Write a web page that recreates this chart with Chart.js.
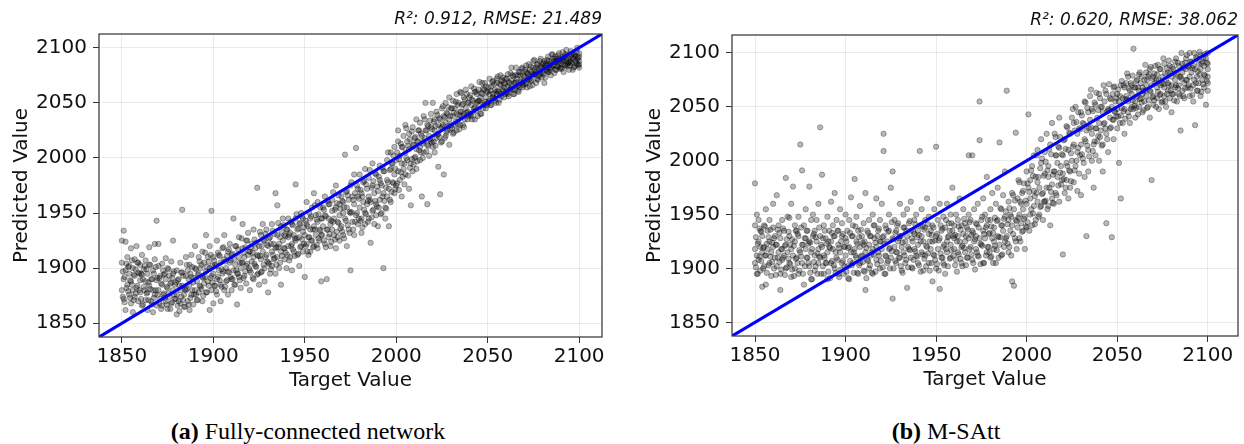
<!DOCTYPE html>
<html>
<head>
<meta charset="utf-8">
<script src="https://cdn.jsdelivr.net/npm/chart.js@4.4.1/dist/chart.umd.min.js"></script>
<style>
  body { margin: 0; background: #fff; width: 1244px; height: 444px; position: relative; overflow: hidden; }
  canvas { position: absolute; top: 0; }
  .cap { position: absolute; top: 417px; font-family: "Liberation Serif", "Times New Roman", serif; font-size: 24px; line-height: 28px; color: #000; transform: translateX(-50%); white-space: nowrap; }
</style>
</head>
<body>
<canvas id="chartA" width="620" height="400" style="left:0px"></canvas>
<canvas id="chartB" width="624" height="400" style="left:620px"></canvas>
<div class="cap" style="left:308px"><b>(a)</b> Fully-connected network</div>
<div class="cap" style="left:946px"><b>(b)</b> M-SAtt</div>

<script>
// each row: [target, predicted, predicted, ...]
const fcnRows = [
  [1850,1905,1880,1925],[1851,1934,1890,1872],[1852,1898,1924,1862],[1853,1885,1910],[1854,1876,1902,1895],
  [1855,1888,1918,1868],[1856,1860,1900,1880],[1857,1893,1874,1908],[1858,1882,1920],[1859,1896,1870,1905],
  [1860,1878,1889,1903],[1861,1866,1912,1894],[1862,1883,1899],[1863,1871,1907,1888],[1864,1878,1862,1895],
  [1865,1903,1884,1919],[1866,1870,1890],[1867,1880,1898,1860],[1868,1908,1922,1876],[1869,1943,1889,1866],
  [1870,1880,1902,1922],[1871,1872,1893],[1872,1885,1866,1904],[1873,1877,1894],[1874,1890,1870,1909],
  [1875,1882,1900,1863],[1876,1874,1893],[1877,1887,1868,1906],[1878,1925,1880,1895],[1879,1872,1885],
  [1880,1858,1876,1898],[1881,1890,1870],[1882,1880,1868,1905],[1883,1953,1884,1896],[1884,1876,1865],
  [1885,1893,1910,1880],[1886,1870,1898],[1887,1885,1862,1903],[1888,1892,1876,1912],[1889,1867,1887],
  [1890,1900,1880,1920],[1891,1888,1871],[1892,1895,1910,1878],[1893,1883,1900],[1894,1870,1892,1915],
  [1895,1905,1886],[1896,1897,1878,1930],[1897,1888,1910],[1898,1862,1900,1920],[1899,1952,1893,1880],
  [1900,1895,1868,1910],[1901,1903,1884],[1902,1890,1925,1876],[1903,1898,1912],[1904,1885,1905,1870],
  [1905,1895,1918],[1906,1880,1908,1930],[1907,1900,1888],[1908,1915,1876,1897],[1909,1905,1922],
  [1910,1890,1880,1912],[1911,1945,1898],[1912,1903,1920,1885],[1913,1867,1895],[1914,1910,1928,1892],
  [1915,1900,1882],[1916,1918,1905,1940],[1917,1893,1910],[1918,1925,1886,1902],[1919,1912,1932],
  [1920,1898,1880,1915],[1921,1906,1922],[1922,1890,1935,1910],[1923,1902,1918],[1924,1973,1912,1894],
  [1925,1920,1885],[1926,1908,1930,1896],[1927,1915,1940],[1928,1900,1925,1888],[1929,1912,1935],
  [1930,1878,1920,1905],[1931,1928,1895],[1932,1915,1940,1902],[1933,1922,1908],[1934,1968,1918,1895],
  [1935,1957,1930,1910],[1936,1922,1900],[1937,1938,1915,1885],[1938,1925,1945],[1939,1908,1930,1918],
  [1940,1935,1900],[1941,1920,1945,1928],[1942,1910,1932],[1943,1940,1922,1898],[1944,1930,1915],
  [1945,1976,1925,1945],[1946,1912,1935],[1947,1940,1928,1902],[1948,1920,1950],[1949,1933,1915,1945],
  [1950,1892,1930],[1951,1940,1922,1960],[1952,1928,1912],[1953,1945,1935,1915],[1954,1955,1925],
  [1955,1938,1968,1920],[1956,1930,1948],[1957,1918,1942,1960],[1958,1935,1925],[1959,1888,1945,1930],
  [1960,1955,1938],[1961,1922,1948,1965],[1962,1890,1935],[1963,1945,1958,1928],[1964,1940,1920],
  [1965,1952,1962,1935],[1966,1930,1945],[1967,1955,1918,1975],[1968,1942,1928],[1969,1958,1948,1925],
  [1970,1938,1965],[1971,1950,1930,1960],[1972,2003,1945],[1973,1920,1955,1970],[1974,1935,1962],
  [1975,1898,1950,1975],[1976,1942,1965],[1977,1958,1930,1985],[1978,2009,1948],[1979,1965,1940,1972],
  [1980,1955,1985],[1981,1945,1968,1932],[1982,1960,1978],[1983,1990,1950,1940],[1984,1972,1958],
  [1985,1945,1982,1965],[1986,1923,1960],[1987,1975,1952,1995],[1988,1968,1940],[1989,1985,1958,1948],
  [1990,1970,1938],[1991,1993,1962,1980],[1992,1950,1975],[1993,1900,1968,1988],[1994,1955,1945],
  [1995,1980,1965,1998],[1996,1938,1972],[1997,1990,1960,2005],[1998,1978,1995],[1999,1968,2010,1985],
  [2000,1998,1975],[2001,2015,1988,2025],[2002,1980,2002],[2003,2010,1965,1995],[2004,2020,1990],
  [2005,2005,1985,2030],[2006,1998,2015],[2007,1972,2008,2022],[2008,1957,1995],[2009,2012,2028,1988],
  [2010,2000,2018],[2011,2035,2008,1990],[2012,2015,2025],[2013,1998,2010,2032],[2014,1965,2020],
  [2015,2005,2038,2015],[2016,2050,2025],[2017,1958,2012,2030],[2018,2020,2002],[2019,2040,2015,2028],
  [2020,2050,2010],[2021,2025,2035,2005],[2022,2018,2042],[2023,2030,1992,2022],[2024,1967,2035],
  [2025,2028,2045,2015],[2026,1985,2038],[2027,2032,2020,2050],[2028,2040,2025],[2029,2055,2035,2012],
  [2030,2030,2045],[2031,2038,2022,2052],[2032,2045,2030],[2033,2058,2040,2025],[2034,2035,2050],
  [2035,2042,2060,2030],[2036,2048,2038],[2037,2055,2040,2028],[2038,2045,2062],[2039,2050,2035,2042],
  [2040,2055,2040],[2041,2048,2065,2038],[2042,2052,2042],[2043,2060,2046,2035],[2044,2050,2058],
  [2045,2045,2062,2052],[2046,2055,2040],[2047,2068,2050,2058],[2048,2048,2062],[2049,2055,2045,2065],
  [2050,2060,2050],[2051,2052,2072,2058],[2052,2065,2048],[2053,2058,2070,2055],[2054,2062,2052],
  [2055,2068,2058,2072],[2056,2060,2050],[2057,2066,2075,2058],[2058,2062,2070],[2059,2055,2068,2064],
  [2060,2072,2060],[2061,2065,2058,2076],[2062,2068,2062],[2063,2082,2064,2070],[2064,2058,2074],
  [2065,2068,2062,2075],[2066,2072,2065],[2067,2066,2078,2060],[2068,2070,2075],[2069,2068,2082,2064],
  [2070,2074,2070],[2071,2078,2068,2084],[2072,2072,2076],[2073,2065,2080,2074],[2074,2078,2070],
  [2075,2082,2075,2088],[2076,2076,2080],[2077,2072,2085,2078],[2078,2080,2074],[2079,2083,2090,2077],
  [2080,2078,2085],[2081,2082,2068,2088],[2082,2086,2080],[2083,2078,2092,2084],[2084,2085,2080],
  [2085,2088,2082,2094],[2086,2084,2090],[2087,2080,2087,2092],[2088,2088,2083],[2089,2085,2095,2090],
  [2090,2086,2082],[2091,2090,2088,2096],[2092,2084,2092],[2093,2088,2098,2085],[2094,2090,2086],
  [2095,2092,2084,2088],[2096,2086,2094],[2097,2090,2082,2095],[2098,2088,2092],[2099,2085,2100,2090],
  [2100,2088,2082,2092,2095,2085]
];

// the denser middle of the fully-connected cloud
const fcnCoreRows = [
  [1850.5,1874,1897],[1851.5,1892,1869],[1852.5,1904,1882],[1853.5,1879,1901],[1854.5,1889,1873],
  [1855.5,1907,1885],[1856.5,1871,1894],[1857.5,1899,1877],[1858.5,1884,1905],[1859.5,1895,1880],
  [1860.5,1872,1895],[1861.5,1890,1867],[1862.5,1902,1880],[1863.5,1877,1899],[1864.5,1887,1871],
  [1865.5,1903,1881],[1866.5,1867,1890],[1867.5,1895,1873],[1868.5,1880,1901],[1869.5,1891,1876],
  [1870.5,1868,1891],[1871.5,1886,1863],[1872.5,1898,1876],[1873.5,1873,1895],[1874.5,1883,1867],
  [1875.5,1899,1877],[1876.5,1863,1886],[1877.5,1891,1869],[1878.5,1876,1897],[1879.5,1887,1872],
  [1880.5,1866,1889],[1881.5,1884,1861],[1882.5,1896,1874],[1883.5,1871,1893],[1884.5,1881,1865],
  [1885.5,1903,1881],[1886.5,1867,1890],[1887.5,1895,1873],[1888.5,1880,1901],[1889.5,1891,1876],
  [1890.5,1876,1899],[1891.5,1894,1871],[1892.5,1906,1884],[1893.5,1881,1903],[1894.5,1891,1875],
  [1895.5,1914,1892],[1896.5,1878,1901],[1897.5,1906,1884],[1898.5,1891,1912],[1899.5,1902,1887],
  [1900.5,1884,1907],[1901.5,1902,1879],[1902.5,1914,1892],[1903.5,1889,1911],[1904.5,1899,1883],
  [1905.5,1919,1897],[1906.5,1883,1906],[1907.5,1911,1889],[1908.5,1896,1917],[1909.5,1907,1892],
  [1910.5,1890,1913],[1911.5,1908,1885],[1912.5,1920,1898],[1913.5,1895,1917],[1914.5,1905,1889],
  [1915.5,1927,1905],[1916.5,1891,1914],[1917.5,1919,1897],[1918.5,1904,1925],[1919.5,1915,1900],
  [1920.5,1896,1919],[1921.5,1914,1891],[1922.5,1926,1904],[1923.5,1901,1923],[1924.5,1911,1895],
  [1925.5,1933,1911],[1926.5,1897,1920],[1927.5,1925,1903],[1928.5,1910,1931],[1929.5,1921,1906],
  [1930.5,1904,1927],[1931.5,1922,1899],[1932.5,1934,1912],[1933.5,1909,1931],[1934.5,1919,1903],
  [1935.5,1941,1919],[1936.5,1905,1928],[1937.5,1933,1911],[1938.5,1918,1939],[1939.5,1929,1914],
  [1940.5,1912,1935],[1941.5,1930,1907],[1942.5,1942,1920],[1943.5,1917,1939],[1944.5,1927,1911],
  [1945.5,1949,1927],[1946.5,1913,1936],[1947.5,1941,1919],[1948.5,1926,1947],[1949.5,1937,1922],
  [1950.5,1920,1943],[1951.5,1938,1915],[1952.5,1950,1928],[1953.5,1925,1947],[1954.5,1935,1919],
  [1955.5,1957,1935],[1956.5,1921,1944],[1957.5,1949,1927],[1958.5,1934,1955],[1959.5,1945,1930],
  [1960.5,1925,1953],[1961.5,1947,1919],[1962.5,1961,1935],[1963.5,1931,1958],[1964.5,1943,1924],
  [1965.5,1969,1942],[1966.5,1926,1953],[1967.5,1959,1933],[1968.5,1941,1966],[1969.5,1954,1936],
  [1970.5,1933,1961],[1971.5,1955,1927],[1972.5,1969,1943],[1973.5,1939,1966],[1974.5,1951,1932],
  [1975.5,1978,1951],[1976.5,1935,1962],[1977.5,1968,1942],[1978.5,1950,1975],[1979.5,1963,1945],
  [1980.5,1943,1971],[1981.5,1965,1937],[1982.5,1979,1953],[1983.5,1949,1976],[1984.5,1961,1942],
  [1985.5,1989,1962],[1986.5,1946,1973],[1987.5,1979,1953],[1988.5,1961,1986],[1989.5,1974,1956],
  [1990.5,1955,1983],[1991.5,1977,1949],[1992.5,1991,1965],[1993.5,1961,1988],[1994.5,1973,1954],
  [1995.5,2005,1978],[1996.5,1962,1989],[1997.5,1995,1969],[1998.5,1977,2002],[1999.5,1990,1972],
  [2000.5,1977,2005],[2001.5,1999,1971],[2002.5,2013,1987],[2003.5,1983,2010],[2004.5,1995,1976],
  [2005.5,2027,2000],[2006.5,1984,2011],[2007.5,2017,1991],[2008.5,1999,2024],[2009.5,2012,1994],
  [2010.5,2001,2019],[2011.5,2015,1997],[2012.5,2025,2007],[2013.5,2005,2022],[2014.5,2013,2000],
  [2015.5,2035,2018],[2016.5,2006,2025],[2017.5,2029,2011],[2018.5,2017,2034],[2019.5,2026,2014],
  [2020.5,2015,2033],[2021.5,2029,2011],[2022.5,2039,2021],[2023.5,2019,2036],[2024.5,2027,2014],
  [2025.5,2047,2030],[2026.5,2018,2037],[2027.5,2041,2023],[2028.5,2029,2046],[2029.5,2038,2026],
  [2030.5,2027,2045],[2031.5,2041,2023],[2032.5,2051,2033],[2033.5,2031,2048],[2034.5,2039,2026],
  [2035.5,2059,2042],[2036.5,2030,2049],[2037.5,2053,2035],[2038.5,2041,2058],[2039.5,2050,2038],
  [2040.5,2039,2057],[2041.5,2053,2035],[2042.5,2063,2045],[2043.5,2043,2060],[2044.5,2051,2038],
  [2045.5,2069,2052],[2046.5,2040,2059],[2047.5,2063,2045],[2048.5,2051,2068],[2049.5,2060,2048],
  [2050.5,2051,2064],[2051.5,2061,2048],[2052.5,2069,2055],[2053.5,2054,2067],[2054.5,2060,2050],
  [2055.5,2074,2061],[2056.5,2053,2067],[2057.5,2070,2056],[2058.5,2061,2073],[2059.5,2067,2058],
  [2060.5,2059,2072],[2061.5,2069,2056],[2062.5,2077,2063],[2063.5,2062,2075],[2064.5,2068,2058],
  [2065.5,2082,2069],[2066.5,2061,2075],[2067.5,2078,2064],[2068.5,2069,2081],[2069.5,2075,2066],
  [2070.5,2067,2080],[2071.5,2077,2064],[2072.5,2085,2071],[2073.5,2070,2083],[2074.5,2076,2066],
  [2075.5,2089,2076],[2076.5,2068,2082],[2077.5,2085,2071],[2078.5,2076,2088],[2079.5,2082,2073],
  [2080.5,2076,2086],[2081.5,2084,2073],[2082.5,2089,2079],[2083.5,2078,2088],[2084.5,2082,2075],
  [2085.5,2094,2084],[2086.5,2077,2088],[2087.5,2090,2080],[2088.5,2083,2093],[2089.5,2088,2081],
  [2090.5,2081,2091],[2091.5,2089,2078],[2092.5,2094,2084],[2093.5,2083,2093],[2094.5,2087,2080],
  [2095.5,2097,2087],[2096.5,2080,2091],[2097.5,2093,2083],[2098.5,2086,2096],[2099.5,2091,2084]
];

const msattRows = [
  [1850,1979,1918,1940,1905],[1851,1950,1912,1895],[1852,1925,1945,1908],[1853,1898,1920,1935],[1854,1915,1883,1930],
  [1855,1920,1940,1902],[1856,1912,1955,1885],[1857,1935,1918],[1858,1905,1925,1945],[1859,1915,1893],
  [1860,1938,1920,1960],[1861,1910,1930],[1862,1968,1902,1922],[1863,1915,1940],[1864,1895,1928,1880],
  [1865,1918,1945,1908],[1866,1935,1912],[1867,1984,1922,1900],[1868,1948,1915],[1869,1947,1905,1930],
  [1870,1918,1960,1892],[1871,1976,1912],[1872,1925,1940,1900],[1873,1910,1935],[1874,1930,1895,1948],
  [1875,2015,1915],[1876,1991,1922,1905],[1877,1940,1885],[1878,1918,1928,1955],[1879,1910,1935],
  [1880,1976,1902,1925],[1881,1945,1915,1890],[1882,1930,1950],[1883,1912,1898,1935],[1884,1925,1945],
  [1885,1905,1960,1918],[1886,2031,1930,1910],[1887,1987,1920],[1888,1895,1940,1912],[1889,1928,1905],
  [1890,1915,1948,1890],[1891,1935,1920],[1892,1905,1962,1925],[1893,1918,1940],[1894,1930,1900,1970],
  [1895,1910,1945],[1896,1922,1895,1935],[1897,1955,1915],[1898,1905,1930,1942],[1899,1920,1895],
  [1900,1912,1950,1928],[1901,1935,1902],[1902,1920,1890,1945],[1903,1966,1915],[1904,1905,1930,1940],
  [1905,1983,1918],[1906,1948,1910,1925],[1907,1895,1935],[1908,1920,1958,1905],[1909,1930,1912],
  [1910,1942,1898,1922],[1911,1880,1970,1915],[1912,1935,1908],[1913,1922,1945,1900],[1914,1912,1930],
  [1915,1950,1918,1895],[1916,1928,1940],[1917,1908,1965,1920],[1918,1935,1915],[1919,1900,1925,1945],
  [1920,1918,1960],[1921,2025,2009,1930],[1922,1912,1940,1895],[1923,1925,1905],[1924,1950,1918,1935],
  [1925,1975,1910],[1926,1990,1872,1928],[1927,1920,1945],[1928,1905,1935,1915],[1929,1942,1925],
  [1930,1910,1960,1930],[1931,1920,1898],[1932,1938,1915,1950],[1933,1925,1905],[1934,1882,1955,1930],
  [1935,1918,1942],[1936,1910,1935,1962],[1937,1925,1900],[1938,1945,1918,1932],[1939,1912,1950],
  [1940,1935,1922,1905],[1941,2009,1940],[1942,1915,1930,1955],[1943,1925,1898],[1944,1945,1912,1938],
  [1945,1920,1965],[1946,1932,1905,1948],[1947,1918,1935],[1948,1940,1888,1925],[1949,1912,1955],
  [1950,2013,1930,1900],[1951,1945,1918],[1952,1881,1928,1960],[1953,1935,1910],[1954,1920,1948,1905],
  [1955,1895,1938],[1956,1925,1960,1915],[1957,1942,1930],[1958,1910,1950,1922],[1959,1935,1975],
  [1960,1918,1940,1928],[1961,1950,1908],[1962,1930,1945,1915],[1963,1925,1965],[1964,1940,1905,1920],
  [1965,1955,1932],[1966,1915,1942,1925],[1967,1938,1910],[1968,2005,1928,1950],[1969,1920,1945],
  [1970,2005,1935,1908],[1971,1925,1955],[1972,1942,1918,1930],[1973,1960,1912],[1974,2055,2019,1928],
  [1975,1945,1922],[1976,1905,1935,1965],[1977,1928,1950],[1978,1915,1940,1985],[1979,1932,1920],
  [1980,1955,1910,1945],[1981,1928,1970],[1982,1938,1918,1925],[1983,1960,1905],[1984,1945,1930,1975],
  [1985,2017,1922],[1986,1940,1955,1912],[1987,1935,1968],[1988,1925,1948,1990],[1989,2065,1930],
  [1990,1945,1915,1962],[1991,1950,1935],[1992,1888,1970,1940],[1993,1884,1955],[1994,2026,1945,1925],
  [1995,1965,1938],[1996,1950,1980,1928],[1997,1942,1960],[1998,1935,1972,1955],[1999,1918,1948],
  [2000,1960,1990,1938],[2001,2043,1975],[2002,1950,1982,1965],[2003,1995,1940],[2004,1972,1958,2005],
  [2005,1945,1985],[2006,1980,1962,2010],[2007,1950,1975],[2008,1998,1958,2020],[2009,1970,1945],
  [2010,1988,2008,1962],[2011,2025,1975],[2012,1958,1995,1985],[2013,2015,1940],[2014,1978,2035,1965],
  [2015,1990,1960],[2016,2005,1970,2022],[2017,1985,1998],[2018,2040,1962,2012],[2019,1978,1995],
  [2020,1913,2005,1988],[2021,2020,1970],[2022,1998,2032,1982],[2023,2010,1965],[2024,1990,2025,1975],
  [2025,2040,2000],[2026,1980,2015,2035],[2027,1995,2050],[2028,2008,1972,2025],[2029,2030,1988],
  [2030,2045,2015,1968],[2031,2002,2035],[2032,2055,1985,2020],[2033,1930,2028],[2034,2010,2045,1990],
  [2035,2038,2060],[2036,2000,2025,2048],[2037,2015,1975],[2038,2052,2030,2005],[2039,2040,2018],
  [2040,2062,2000,2035],[2041,2028,2050],[2042,1990,2045,2015],[2043,2055,2035],[2044,1942,2025,2062],
  [2045,2048,2008],[2046,2030,2058,2040],[2047,1929,2050],[2048,2038,2068,2020],[2049,2055,2045],
  [2050,2062,2030,2048],[2051,1998,2055],[2052,1965,2042,2070],[2053,2058,2035],[2054,2048,2068,2025],
  [2055,2060,2072],[2056,2045,2055,2078],[2057,2065,2035],[2058,2050,2070,2062],[2059,2104,2048],
  [2060,2068,2055,2040],[2061,2075,2060],[2062,2050,2080,2065],[2063,2058,2072],[2064,2045,2068,2062],
  [2065,2075,2055],[2066,2082,2060,2070],[2067,2050,2078],[2068,2065,2085,2040],[2069,1982,2070],
  [2070,2060,2078,2052],[2071,2072,2088],[2072,2058,2068,2080],[2073,2048,2075],[2074,2085,2062,2070],
  [2075,2055,2078],[2076,2068,2090,2060],[2077,2075,2050],[2078,2082,2065,2072],[2079,2058,2088],
  [2080,2070,2078,2045],[2081,2085,2062],[2082,2075,2092,2068],[2083,2055,2080],[2084,2088,2070,2062],
  [2085,2028,2078],[2086,2090,2065,2082],[2087,2072,2058],[2088,2085,2095,2075],[2089,2068,2088],
  [2090,2100,2078,2060],[2091,2082,2092],[2092,2070,2088,2055],[2093,2033,2085],[2094,2078,2095,2065],
  [2095,2090,2072],[2096,2085,2060,2098],[2097,2075,2092],[2098,2088,2068,2080],[2099,2095,2052],
  [2100,2090,2072,2085,2100,2078,2065]
];

// the denser middle of the M-SAtt cloud
const msattCoreRows = [
  [1850.5,1901,1929],[1851.5,1923,1895],[1852.5,1937,1911],[1853.5,1907,1934],[1854.5,1919,1900],
  [1855.5,1939,1912],[1856.5,1896,1923],[1857.5,1929,1903],[1858.5,1911,1936],[1859.5,1924,1906],
  [1860.5,1900,1928],[1861.5,1922,1894],[1862.5,1936,1910],[1863.5,1906,1933],[1864.5,1918,1899],
  [1865.5,1937,1910],[1866.5,1894,1921],[1867.5,1927,1901],[1868.5,1909,1934],[1869.5,1922,1904],
  [1870.5,1899,1927],[1871.5,1921,1893],[1872.5,1935,1909],[1873.5,1905,1932],[1874.5,1917,1898],
  [1875.5,1938,1911],[1876.5,1895,1922],[1877.5,1928,1902],[1878.5,1910,1935],[1879.5,1923,1905],
  [1880.5,1896,1924],[1881.5,1918,1890],[1882.5,1932,1906],[1883.5,1902,1929],[1884.5,1914,1895],
  [1885.5,1938,1911],[1886.5,1895,1922],[1887.5,1928,1902],[1888.5,1910,1935],[1889.5,1923,1905],
  [1890.5,1897,1925],[1891.5,1919,1891],[1892.5,1933,1907],[1893.5,1903,1930],[1894.5,1915,1896],
  [1895.5,1935,1908],[1896.5,1892,1919],[1897.5,1925,1899],[1898.5,1907,1932],[1899.5,1920,1902],
  [1900.5,1897,1925],[1901.5,1919,1891],[1902.5,1933,1907],[1903.5,1903,1930],[1904.5,1915,1896],
  [1905.5,1939,1912],[1906.5,1896,1923],[1907.5,1929,1903],[1908.5,1911,1936],[1909.5,1924,1906],
  [1910.5,1897,1925],[1911.5,1919,1891],[1912.5,1933,1907],[1913.5,1903,1930],[1914.5,1915,1896],
  [1915.5,1940,1913],[1916.5,1897,1924],[1917.5,1930,1904],[1918.5,1912,1937],[1919.5,1925,1907],
  [1920.5,1901,1929],[1921.5,1923,1895],[1922.5,1937,1911],[1923.5,1907,1934],[1924.5,1919,1900],
  [1925.5,1943,1916],[1926.5,1900,1927],[1927.5,1933,1907],[1928.5,1915,1940],[1929.5,1928,1910],
  [1930.5,1902,1930],[1931.5,1924,1896],[1932.5,1938,1912],[1933.5,1908,1935],[1934.5,1920,1901],
  [1935.5,1944,1917],[1936.5,1901,1928],[1937.5,1934,1908],[1938.5,1916,1941],[1939.5,1929,1911],
  [1940.5,1903,1931],[1941.5,1925,1897],[1942.5,1939,1913],[1943.5,1909,1936],[1944.5,1921,1902],
  [1945.5,1941,1914],[1946.5,1898,1925],[1947.5,1931,1905],[1948.5,1913,1938],[1949.5,1926,1908],
  [1950.5,1904,1932],[1951.5,1926,1898],[1952.5,1940,1914],[1953.5,1910,1937],[1954.5,1922,1903],
  [1955.5,1945,1918],[1956.5,1902,1929],[1957.5,1935,1909],[1958.5,1917,1942],[1959.5,1930,1912],
  [1960.5,1903,1931],[1961.5,1925,1897],[1962.5,1939,1913],[1963.5,1909,1936],[1964.5,1921,1902],
  [1965.5,1946,1919],[1966.5,1903,1930],[1967.5,1936,1910],[1968.5,1918,1943],[1969.5,1931,1913],
  [1970.5,1905,1933],[1971.5,1927,1899],[1972.5,1941,1915],[1973.5,1911,1938],[1974.5,1923,1904],
  [1975.5,1948,1921],[1976.5,1905,1932],[1977.5,1938,1912],[1978.5,1920,1945],[1979.5,1933,1915],
  [1980.5,1911,1939],[1981.5,1933,1905],[1982.5,1947,1921],[1983.5,1917,1944],[1984.5,1929,1910],
  [1985.5,1956,1929],[1986.5,1913,1940],[1987.5,1946,1920],[1988.5,1928,1953],[1989.5,1941,1923],
  [1990.5,1920,1956],[1991.5,1948,1912],[1992.5,1968,1932],[1993.5,1928,1963],[1994.5,1944,1918],
  [1995.5,1982,1947],[1996.5,1925,1962],[1997.5,1970,1934],[1998.5,1946,1979],[1999.5,1963,1939],
  [2000.5,1943,1979],[2001.5,1971,1935],[2002.5,1991,1955],[2003.5,1951,1986],[2004.5,1967,1941],
  [2005.5,2005,1970],[2006.5,1948,1985],[2007.5,1993,1957],[2008.5,1969,2002],[2009.5,1986,1962],
  [2010.5,1963,1999],[2011.5,1991,1955],[2012.5,2011,1975],[2013.5,1971,2006],[2014.5,1987,1961],
  [2015.5,2025,1990],[2016.5,1968,2005],[2017.5,2013,1977],[2018.5,1989,2022],[2019.5,2006,1982],
  [2020.5,1983,2019],[2021.5,2011,1975],[2022.5,2031,1995],[2023.5,1991,2026],[2024.5,2007,1981],
  [2025.5,2048,2013],[2026.5,1991,2028],[2027.5,2036,2000],[2028.5,2012,2045],[2029.5,2029,2005],
  [2030.5,2006,2042],[2031.5,2034,1998],[2032.5,2054,2018],[2033.5,2014,2049],[2034.5,2030,2004],
  [2035.5,2066,2031],[2036.5,2009,2046],[2037.5,2054,2018],[2038.5,2030,2063],[2039.5,2047,2023],
  [2040.5,2022,2058],[2041.5,2050,2014],[2042.5,2070,2034],[2043.5,2030,2065],[2044.5,2046,2020],
  [2045.5,2071,2047],[2046.5,2031,2057],[2047.5,2062,2038],[2048.5,2046,2069],[2049.5,2058,2041],
  [2050.5,2041,2066],[2051.5,2060,2035],[2052.5,2074,2049],[2053.5,2046,2070],[2054.5,2057,2039],
  [2055.5,2081,2057],[2056.5,2041,2067],[2057.5,2072,2048],[2058.5,2056,2079],[2059.5,2068,2051],
  [2060.5,2049,2074],[2061.5,2068,2043],[2062.5,2082,2057],[2063.5,2054,2078],[2064.5,2065,2047],
  [2065.5,2089,2065],[2066.5,2049,2075],[2067.5,2080,2056],[2068.5,2064,2087],[2069.5,2076,2059],
  [2070.5,2056,2081],[2071.5,2075,2050],[2072.5,2089,2064],[2073.5,2061,2085],[2074.5,2072,2054],
  [2075.5,2095,2071],[2076.5,2055,2081],[2077.5,2086,2062],[2078.5,2070,2093],[2079.5,2082,2065],
  [2080.5,2062,2087],[2081.5,2081,2056],[2082.5,2095,2070],[2083.5,2067,2091],[2084.5,2078,2060],
  [2085.5,2100,2076],[2086.5,2060,2086],[2087.5,2091,2067],[2088.5,2075,2098],[2089.5,2087,2070],
  [2090.5,2067,2092],[2091.5,2086,2061],[2092.5,2100,2075],[2093.5,2072,2096],[2094.5,2083,2065],
  [2095.5,2101,2080],[2096.5,2064,2090],[2097.5,2095,2071],[2098.5,2079,2099],[2099.5,2091,2074]
];

const tickValues = [1850, 1900, 1950, 2000, 2050, 2100];
const limitsA = [1837.5, 2112.5];
const limitsB = [1837.3, 2116.7];
const noteA = "R\u00b2: 0.912, RMSE: 21.489";
const noteB = "R\u00b2: 0.620, RMSE: 38.062";

function toPoints(...tables) {
  const pts = [];
  tables.forEach((rows) => {
    rows.forEach((r) => {
      for (let i = 1; i < r.length; i++) pts.push({ x: r[0], y: r[i] });
    });
  });
  return pts;
}

// frame + texts, matplotlib-like
const decor = {
  id: "decor",
  afterDraw(chart, args, opts) {
    const { ctx, chartArea: a } = chart;
    ctx.save();
    ctx.strokeStyle = "#404040";
    ctx.lineWidth = 1.3;
    ctx.strokeRect(a.left, a.top, a.right - a.left, a.bottom - a.top);

    ctx.fillStyle = "#111";
    ctx.font = 'italic 17px "DejaVu Sans"';
    ctx.textAlign = "right";
    ctx.textBaseline = "alphabetic";
    ctx.fillText(opts.note, a.right, a.top - 10);

    ctx.font = '20px "DejaVu Sans"';
    ctx.textAlign = "center";
    ctx.textBaseline = "middle";
    ctx.fillText("Target Value", (a.left + a.right) / 2, a.bottom + 44);

    ctx.translate(a.left - 77, (a.top + a.bottom) / 2);
    ctx.rotate(-Math.PI / 2);
    ctx.fillText("Predicted Value", 0, 0);
    ctx.restore();
  },
};

function makeChart(id, points, limits, note, yWidth, xHeight, pad) {
  const axis = (isX) => ({
    type: "linear",
    min: limits[0],
    max: limits[1],
    afterBuildTicks: (s) => {
      s.ticks = tickValues.map((v) => ({ value: v }));
    },
    afterFit: (s) => {
      if (isX) s.height = xHeight;
      else s.width = yWidth;
    },
    ticks: {
      color: "#111",
      font: { family: "DejaVu Sans", size: 20 },
      padding: isX ? 2 : 6,
      maxRotation: 0,
      autoSkip: false,
      callback: (v) => String(v),
    },
    grid: {
      color: "rgba(0,0,0,0.08)",
      lineWidth: 1,
      drawTicks: true,
      tickLength: 6,
      tickColor: "#333",
      tickWidth: 1,
    },
    border: { display: false },
  });

  return new Chart(document.getElementById(id), {
    type: "scatter",
    data: {
      datasets: [
        {
          label: "y = x",
          type: "line",
          data: [
            { x: limits[0], y: limits[0] },
            { x: limits[1], y: limits[1] },
          ],
          borderColor: "#0000ff",
          borderWidth: 3.2,
          pointRadius: 0,
          order: 0,
        },
        {
          label: "samples",
          data: points,
          backgroundColor: "rgba(0,0,0,0.28)",
          borderColor: "rgba(0,0,0,0.3)",
          borderWidth: 1,
          pointRadius: 2.7,
          order: 1,
        },
      ],
    },
    options: {
      responsive: false,
      animation: false,
      devicePixelRatio: 1,
      layout: { padding: pad, autoPadding: false },
      plugins: {
        legend: { display: false },
        tooltip: { enabled: false },
        decor: { note: note },
      },
      scales: { x: axis(true), y: axis(false) },
    },
    plugins: [decor],
  });
}

makeChart("chartA", toPoints(fcnRows, fcnCoreRows), limitsA, noteA, 99, 63,
  { left: 0, right: 18, top: 34, bottom: 0 });
makeChart("chartB", toPoints(msattRows, msattCoreRows), limitsB, noteB, 112, 64,
  { left: 0, right: 6, top: 35, bottom: 0 });
</script>
</body>
</html>
